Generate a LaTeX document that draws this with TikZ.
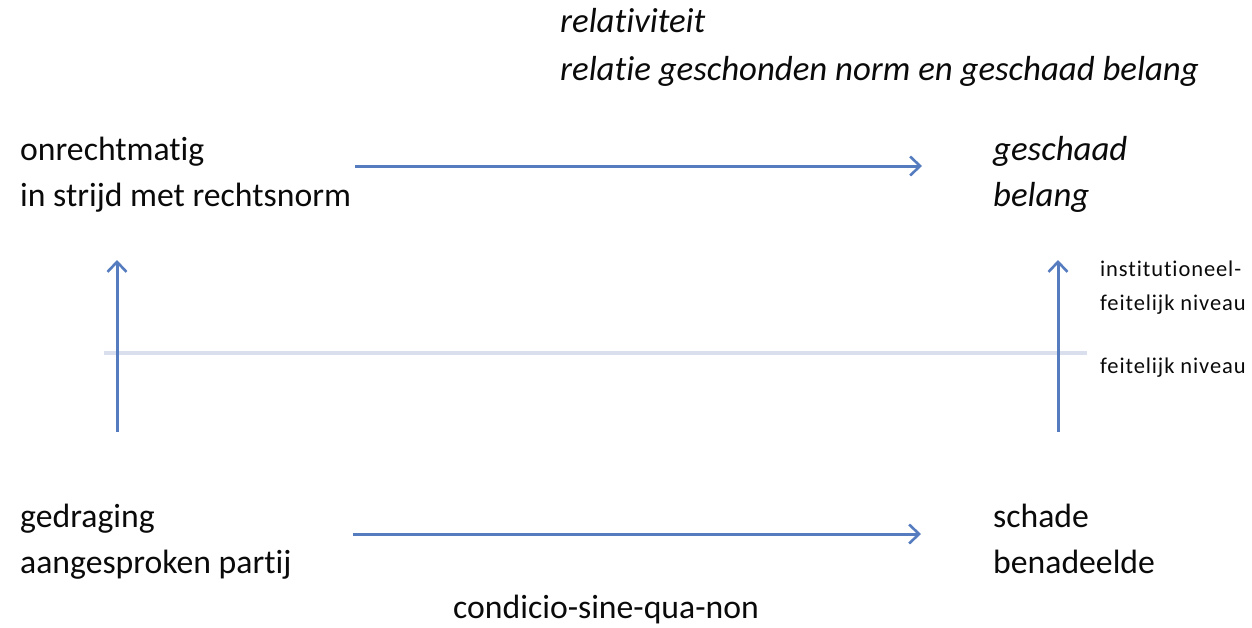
\documentclass[tikz,border=0pt]{standalone}
\usepackage{fontspec}
\setmainfont{Carlito}[Ligatures=NoCommon]
\usetikzlibrary{arrows.meta}
\definecolor{arrowblue}{RGB}{84,124,190}
\definecolor{sepgray}{RGB}{217,223,236}
\definecolor{txt}{RGB}{10,10,10}
\tikzset{
  lbl/.style={anchor=base west,inner sep=0pt,text=txt,font=\fontsize{33.7}{40}\selectfont},
  ilbl/.style={lbl,font=\fontsize{34.8}{40}\selectfont\itshape},
  small/.style={anchor=base west,inner sep=0pt,text=txt,font=\fontsize{22.5}{26}\selectfont\addfontfeatures{LetterSpace=4}},
  conn/.style={draw=arrowblue,line width=3pt,-{Straight Barb[length=10pt,width=19pt,line width=2.6pt]}},
  sep/.style={draw=sepgray,line width=4pt}
}
\begin{document}
\begin{tikzpicture}[x=1pt,y=-1pt]
\useasboundingbox (0,0) rectangle (1252,627);
\node[ilbl] (rel1) at (560,32) {relativiteit};
\node[ilbl] (rel2) at (560,80) {relatie geschonden norm en geschaad belang};
\node[lbl] (onr1) at (20,160) {onrechtmatig};
\node[lbl] (onr2) at (20,206) {in strijd met rechtsnorm};
\node[ilbl] (ges1) at (993,160) {geschaad};
\node[ilbl] (ges2) at (993,206) {belang};
\node[lbl] (ged1) at (20,527) {gedraging};
\node[lbl] (ged2) at (20,573) {aangesproken partij};
\node[lbl] (sch1) at (993,527) {schade};
\node[lbl] (sch2) at (993,573) {benadeelde};
\node[lbl] (csqn) at (453,618) {condicio-sine-qua-non};
\node[small] (inst1) at (1100,276) {institutioneel-};
\node[small] (inst2) at (1100,310) {feitelijk niveau};
\node[small] (feit) at (1100,373) {feitelijk niveau};
\coordinate (topS) at (355,166);
\coordinate (topE) at (922,166);
\coordinate (botS) at (353,534);
\coordinate (botE) at (921,534);
\coordinate (lS) at (117,432);
\coordinate (lE) at (117,260);
\coordinate (rS) at (1058,432);
\coordinate (rE) at (1058,260);
\coordinate (sepL) at (104,353);
\coordinate (sepR) at (1087,353);
\draw[sep] (sepL) -- (sepR);
\draw[conn] (topS) -- (topE);
\draw[conn] (botS) -- (botE);
\draw[conn] (lS) -- (lE);
\draw[conn] (rS) -- (rE);
\end{tikzpicture}
\end{document}
